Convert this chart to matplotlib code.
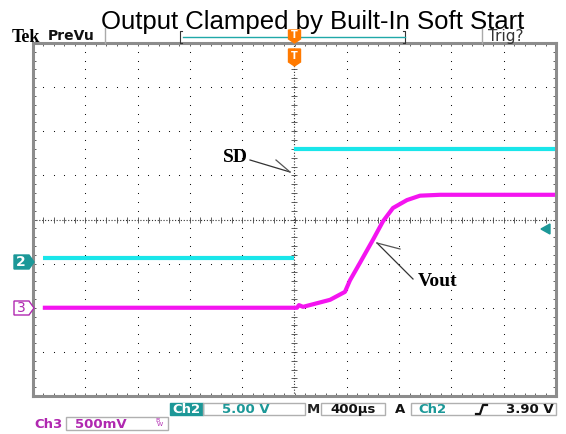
import numpy as np
import matplotlib.pyplot as plt
from matplotlib.patches import Polygon, Rectangle

# scope settings
T_DIV = 400.0      # us / div
CH2_VDIV = 5.0     # V / div
CH3_VDIV = 0.5     # V / div
CH2_POS = -1.0     # ground marker position in divisions
CH3_POS = -2.0

# Ch2 (SD) : low before trigger, high after
ch2_low_t = [-1925, 0]
ch2_low_v = [0.68, 0.68]
ch2_high_t = [0, 2000]
ch2_high_v = [13.0, 13.0]

# Ch3 (Vout) soft start ramp
ch3_t = [-1925, 19, 34, 65, 272, 386, 424, 501, 600, 677, 753, 860, 960, 1113, 2000]
ch3_v = [0.0, 0.0, 0.03, 0.01, 0.09, 0.18, 0.31, 0.51, 0.77, 0.98, 1.13, 1.22, 1.27, 1.28, 1.28]

CYAN = '#1ae6ea'
MAGENTA = '#f414f0'
TEAL = '#1c9898'
PURPLE = '#b028b0'
ORANGE = '#ff7a00'
GRAY = '#8c8c8c'

W, H = 566, 434
fig = plt.figure(figsize=(W / 100, H / 100), dpi=100)

# graticule area
ax = fig.add_axes([33 / W, 38 / H, 523 / W, 353 / H])
ax.set_xlim(-5, 5)
ax.set_ylim(-4, 4)
for s in ax.spines.values():
    s.set_color(GRAY)
    s.set_linewidth(2.2)
ax.set_xticks(np.arange(-5, 5.01, 0.2))
ax.set_yticks(np.arange(-4, 4.01, 0.2))
ax.tick_params(direction='in', length=2.5, width=0.6, color='#444444',
               top=True, right=True, labelbottom=False, labelleft=False)

# dotted division lines
xs = np.arange(-5, 5.01, 0.2)
ys = np.arange(-4, 4.01, 0.2)
for i in range(-4, 5):
    if i == 0:
        continue
    ax.plot(np.full(len(ys), i), ys, ls='none', marker='s', ms=0.75, mew=0, color='#111111')
for j in range(-3, 4):
    if j == 0:
        continue
    ax.plot(xs, np.full(len(xs), j), ls='none', marker='s', ms=0.75, mew=0, color='#111111')
# centre lines with minor ticks
ax.axhline(0, ls=(0, (1, 1.6)), lw=0.8, color='#333333')
ax.axvline(0, ls=(0, (1, 1.6)), lw=0.8, color='#333333')
ax.plot(xs, np.zeros(len(xs)), ls='none', marker='|', ms=4, mew=0.6, color='#444444')
ax.plot(np.zeros(len(ys)), ys, ls='none', marker='_', ms=4, mew=0.6, color='#444444')

# traces
def tdiv(t):
    return np.array(t) / T_DIV

ax.plot(tdiv(ch2_low_t), np.array(ch2_low_v) / CH2_VDIV + CH2_POS, color=CYAN, lw=3, solid_capstyle='butt')
ax.plot(tdiv(ch2_high_t), np.array(ch2_high_v) / CH2_VDIV + CH2_POS, color=CYAN, lw=3, solid_capstyle='butt')
ax.plot(tdiv(ch3_t), np.array(ch3_v) / CH3_VDIV + CH3_POS, color=MAGENTA, lw=3, solid_capstyle='butt')

# overlay in pixel coordinates for the scope chrome
ov = fig.add_axes([0, 0, 1, 1])
ov.set_xlim(0, W)
ov.set_ylim(H, 0)
ov.axis('off')
ov.patch.set_alpha(0)
ov.set_zorder(3)

# header
ov.text(12, 37, 'Tek', fontsize=13, fontweight='bold', family='Liberation Serif', va='center')
ov.text(48, 36, 'PreVu', fontsize=10, fontweight='bold', va='center', color='#111111')
ov.plot([105, 105], [28, 43], color='#aaaaaa', lw=1)
ov.plot([482, 482], [28, 43], color='#aaaaaa', lw=1)
ov.plot([182, 180, 180, 182], [31, 31, 43, 43], color='#333333', lw=0.8)
ov.plot([403, 405, 405, 403], [31, 31, 43, 43], color='#333333', lw=0.8)
ov.plot([183, 405], [37, 37], color='#20a8a8', lw=1)
ov.text(488, 37, 'Trig?', fontsize=11, va='center', color='#333333')
ov.text(313, 22, 'Output Clamped by Built-In Soft Start', fontsize=18.5,
        family='Liberation Sans', ha='center', va='center')

# trigger position markers
def tmark(cx, top, h):
    w = 6
    ov.add_patch(Polygon([[cx - w, top], [cx + w, top], [cx + w, top + h], [cx, top + h + 4],
                          [cx - w, top + h]], closed=True, color=ORANGE, zorder=4))
    ov.text(cx, top + h / 2 + 0.5, 'T', color='white', fontsize=7, fontweight='bold',
            ha='center', va='center', zorder=5)

tmark(294.5, 30, 9)
tmark(294.5, 49, 13)

# channel ground markers
ov.add_patch(Polygon([[14, 255], [29, 255], [34, 262], [29, 269], [14, 269]], closed=True,
                     facecolor=TEAL, edgecolor=TEAL))
ov.text(21, 262.5, '2', color='white', fontsize=10, fontweight='bold', ha='center', va='center')
ov.add_patch(Polygon([[14, 301], [29, 301], [34, 308], [29, 315], [14, 315]], closed=True,
                     facecolor='white', edgecolor=PURPLE, lw=1))
ov.text(21, 308.5, '3', color=PURPLE, fontsize=10, ha='center', va='center')
# trigger level marker
ov.add_patch(Polygon([[541, 229], [550, 224], [550, 234]], closed=True, color=TEAL))

# annotations
ov.text(235, 158, 'SD', fontsize=14, fontweight='bold', family='Liberation Serif',
        ha='center', va='center')
ov.plot([250, 290], [160, 172], color='#333333', lw=0.9)
ov.plot([276, 290], [160, 172], color='#555555', lw=0.9)
ov.text(438, 282, 'Vout', fontsize=14, fontweight='bold', family='Liberation Serif',
        ha='center', va='center')
ov.plot([413, 377], [279, 243], color='#333333', lw=0.9)
ov.plot([400, 377], [249, 243], color='#555555', lw=0.9)

# status line
st = dict(fontsize=9.5, fontweight='bold', va='center')
ov.add_patch(Rectangle((170, 403), 33, 12, color=TEAL))
ov.text(186.5, 409.5, 'Ch2', color='white', ha='center', **st)
ov.add_patch(Rectangle((203, 403), 102, 12, fill=False, edgecolor='#b0b0b0', lw=1))
ov.text(246, 409.5, '5.00 V', color=TEAL, ha='center', **st)
ov.text(313, 409.5, 'M', color='#222222', ha='center', **st)
ov.add_patch(Rectangle((321, 403), 64, 12, fill=False, edgecolor='#b0b0b0', lw=1))
ov.text(353, 409.5, '400µs', color='#111111', ha='center', **st)
ov.text(400, 409.5, 'A', color='#111111', ha='center', **st)
ov.add_patch(Rectangle((411, 403), 145, 12, fill=False, edgecolor='#b0b0b0', lw=1))
ov.text(418, 409.5, 'Ch2', color=TEAL, ha='left', **st)
ov.plot([476, 480, 483, 487], [414, 414, 405, 405], color='#111111', lw=1.6)
ov.text(554, 409.5, '3.90 V', color='#111111', ha='right', **st)

ov.text(34, 424.5, 'Ch3', color=PURPLE, ha='left', **st)
ov.add_patch(Rectangle((66, 417), 102, 13, fill=False, edgecolor='#b0b0b0', lw=1))
ov.text(101, 424.5, '500mV', color=PURPLE, ha='center', **st)
ov.text(157, 420, 'B', color=PURPLE, fontsize=4.5, ha='center', va='center')
ov.text(160, 424, 'W', color=PURPLE, fontsize=4.5, ha='center', va='center')

fig.savefig('out.png', dpi=100)
